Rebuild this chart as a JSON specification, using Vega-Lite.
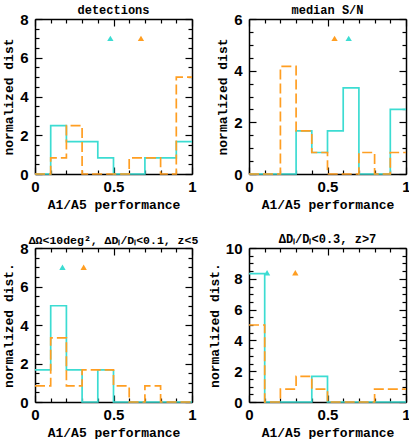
{
  "$schema": "https://vega.github.io/schema/vega-lite/v6.json",
  "padding": {"left": 2, "top": 4, "right": 0, "bottom": 0},
  "background": "white",
  "datasets": {
    "hist": [
      {"p": 1, "s": "a", "x": 0, "y": 0}, {"p": 1, "s": "a", "x": 0.1, "y": 2.5}, {"p": 1, "s": "a", "x": 0.2, "y": 1.667}, {"p": 1, "s": "a", "x": 0.3, "y": 1.667}, {"p": 1, "s": "a", "x": 0.4, "y": 0.833}, {"p": 1, "s": "a", "x": 0.5, "y": 0}, {"p": 1, "s": "a", "x": 0.6, "y": 0}, {"p": 1, "s": "a", "x": 0.7, "y": 0.833}, {"p": 1, "s": "a", "x": 0.8, "y": 0.833}, {"p": 1, "s": "a", "x": 0.9, "y": 1.667}, {"p": 1, "s": "a", "x": 1.0, "y": 1.667},
      {"p": 1, "s": "b", "x": 0, "y": 0}, {"p": 1, "s": "b", "x": 0.1, "y": 0.833}, {"p": 1, "s": "b", "x": 0.2, "y": 2.5}, {"p": 1, "s": "b", "x": 0.3, "y": 0}, {"p": 1, "s": "b", "x": 0.4, "y": 0}, {"p": 1, "s": "b", "x": 0.5, "y": 0}, {"p": 1, "s": "b", "x": 0.6, "y": 0.833}, {"p": 1, "s": "b", "x": 0.7, "y": 0.833}, {"p": 1, "s": "b", "x": 0.8, "y": 0}, {"p": 1, "s": "b", "x": 0.9, "y": 5}, {"p": 1, "s": "b", "x": 1.0, "y": 5},
      {"p": 2, "s": "a", "x": 0, "y": 0}, {"p": 2, "s": "a", "x": 0.1, "y": 0}, {"p": 2, "s": "a", "x": 0.2, "y": 0}, {"p": 2, "s": "a", "x": 0.3, "y": 1.667}, {"p": 2, "s": "a", "x": 0.4, "y": 0.833}, {"p": 2, "s": "a", "x": 0.5, "y": 1.667}, {"p": 2, "s": "a", "x": 0.6, "y": 3.333}, {"p": 2, "s": "a", "x": 0.7, "y": 0}, {"p": 2, "s": "a", "x": 0.8, "y": 0}, {"p": 2, "s": "a", "x": 0.9, "y": 2.5}, {"p": 2, "s": "a", "x": 1.0, "y": 2.5},
      {"p": 2, "s": "b", "x": 0, "y": 0}, {"p": 2, "s": "b", "x": 0.1, "y": 0}, {"p": 2, "s": "b", "x": 0.2, "y": 4.167}, {"p": 2, "s": "b", "x": 0.3, "y": 1.667}, {"p": 2, "s": "b", "x": 0.4, "y": 0.833}, {"p": 2, "s": "b", "x": 0.5, "y": 0}, {"p": 2, "s": "b", "x": 0.6, "y": 0}, {"p": 2, "s": "b", "x": 0.7, "y": 0.833}, {"p": 2, "s": "b", "x": 0.8, "y": 0}, {"p": 2, "s": "b", "x": 0.9, "y": 0.833}, {"p": 2, "s": "b", "x": 1.0, "y": 0.833},
      {"p": 3, "s": "a", "x": 0, "y": 1.667}, {"p": 3, "s": "a", "x": 0.1, "y": 5}, {"p": 3, "s": "a", "x": 0.2, "y": 1.667}, {"p": 3, "s": "a", "x": 0.3, "y": 0}, {"p": 3, "s": "a", "x": 0.4, "y": 1.667}, {"p": 3, "s": "a", "x": 0.5, "y": 0}, {"p": 3, "s": "a", "x": 0.6, "y": 0}, {"p": 3, "s": "a", "x": 0.7, "y": 0}, {"p": 3, "s": "a", "x": 0.8, "y": 0}, {"p": 3, "s": "a", "x": 0.9, "y": 0}, {"p": 3, "s": "a", "x": 1.0, "y": 0},
      {"p": 3, "s": "b", "x": 0, "y": 0.833}, {"p": 3, "s": "b", "x": 0.1, "y": 3.333}, {"p": 3, "s": "b", "x": 0.2, "y": 0.833}, {"p": 3, "s": "b", "x": 0.3, "y": 1.667}, {"p": 3, "s": "b", "x": 0.4, "y": 1.667}, {"p": 3, "s": "b", "x": 0.5, "y": 0.833}, {"p": 3, "s": "b", "x": 0.6, "y": 0}, {"p": 3, "s": "b", "x": 0.7, "y": 0.833}, {"p": 3, "s": "b", "x": 0.8, "y": 0}, {"p": 3, "s": "b", "x": 0.9, "y": 0}, {"p": 3, "s": "b", "x": 1.0, "y": 0},
      {"p": 4, "s": "a", "x": 0, "y": 8.333}, {"p": 4, "s": "a", "x": 0.1, "y": 0}, {"p": 4, "s": "a", "x": 0.2, "y": 0}, {"p": 4, "s": "a", "x": 0.3, "y": 0}, {"p": 4, "s": "a", "x": 0.4, "y": 1.667}, {"p": 4, "s": "a", "x": 0.5, "y": 0}, {"p": 4, "s": "a", "x": 0.6, "y": 0}, {"p": 4, "s": "a", "x": 0.7, "y": 0}, {"p": 4, "s": "a", "x": 0.8, "y": 0}, {"p": 4, "s": "a", "x": 0.9, "y": 0}, {"p": 4, "s": "a", "x": 1.0, "y": 0},
      {"p": 4, "s": "b", "x": 0, "y": 5}, {"p": 4, "s": "b", "x": 0.1, "y": 0}, {"p": 4, "s": "b", "x": 0.2, "y": 0.833}, {"p": 4, "s": "b", "x": 0.3, "y": 1.667}, {"p": 4, "s": "b", "x": 0.4, "y": 0.833}, {"p": 4, "s": "b", "x": 0.5, "y": 0}, {"p": 4, "s": "b", "x": 0.6, "y": 0}, {"p": 4, "s": "b", "x": 0.7, "y": 0}, {"p": 4, "s": "b", "x": 0.8, "y": 0.833}, {"p": 4, "s": "b", "x": 0.9, "y": 0.833}, {"p": 4, "s": "b", "x": 1.0, "y": 0.833}
    ],
    "tri": [
      {"p": 1, "s": "a", "x": 0.48, "y": 7}, {"p": 1, "s": "b", "x": 0.675, "y": 7},
      {"p": 2, "s": "b", "x": 0.545, "y": 5.25}, {"p": 2, "s": "a", "x": 0.635, "y": 5.25},
      {"p": 3, "s": "a", "x": 0.175, "y": 7}, {"p": 3, "s": "b", "x": 0.31, "y": 7},
      {"p": 4, "s": "a", "x": 0.115, "y": 8.4}, {"p": 4, "s": "b", "x": 0.295, "y": 8.4}
    ]
  },
  "config": {
    "view": {"stroke": null},
    "axis": {
      "grid": false, "zindex": 1, "domainColor": "black", "domainWidth": 1.5, "tickColor": "black", "tickWidth": 1.2,
      "labelFont": "Liberation Sans", "labelFontWeight": "bold", "labelFontSize": 15, "labelColor": "black",
      "labelOverlap": false, "labelFlush": false, "labelBound": false,
      "titleFont": "Liberation Mono", "titleFontWeight": "bold", "titleFontSize": 13, "titleColor": "black"
    },
    "axisBottom": {"labelPadding": 12, "titlePadding": 1},
    "axisLeft": {"labelPadding": 14, "titlePadding": 4},
    "title": {"font": "Liberation Mono", "fontWeight": "bold", "fontSize": 12, "color": "black", "offset": -5},
    "point": {"opacity": 1}
  },
  "bounds": "flush",
  "columns": 2,
  "spacing": {"row": 74, "column": 57},
  "concat": [
    {
      "width": 157, "height": 155,
      "title": {"text": "detections"},
      "layer": [
        {
          "data": {"name": "hist"}, "transform": [{"filter": "datum.p == 1"}],
          "mark": {"type": "line", "interpolate": "step-after", "strokeWidth": 1.7},
          "encoding": {
            "x": {"field": "x", "type": "quantitative", "scale": {"domain": [0, 1], "nice": false}, "axis": {"orient": "bottom", "title": "A1/A5 performance", "values": [0, 0.1, 0.2, 0.3, 0.4, 0.5, 0.6, 0.7, 0.8, 0.9, 1], "labelExpr": "datum.value == 0 ? '0' : abs(datum.value - 0.5) < 0.001 ? '0.5' : abs(datum.value - 1) < 0.001 ? '1' : ''", "tickSize": {"condition": {"test": "abs(datum.value * 2 - round(datum.value * 2)) < 0.001", "value": -7}, "value": -4}}},
            "y": {"field": "y", "type": "quantitative", "scale": {"domain": [0, 8], "nice": false}, "axis": {"orient": "left", "title": "normalized dist", "values": [0, 0.5, 1, 1.5, 2, 2.5, 3, 3.5, 4, 4.5, 5, 5.5, 6, 6.5, 7, 7.5, 8], "labelExpr": "datum.value % 2 == 0 ? format(datum.value, 'd') : ''", "tickSize": {"condition": {"test": "datum.value % 2 == 0", "value": -7}, "value": -4}}},
            "color": {"field": "s", "type": "nominal", "scale": {"domain": ["a", "b"], "range": ["#3CDCD2", "#FF9E22"]}, "legend": null},
            "strokeDash": {"field": "s", "type": "nominal", "scale": {"domain": ["a", "b"], "range": [[1, 0], [10, 4]]}, "legend": null}
          }
        },
        {
          "data": {"name": "tri"}, "transform": [{"filter": "datum.p == 1"}],
          "mark": {"type": "point", "shape": "triangle-up", "filled": true, "size": 40},
          "encoding": {
            "x": {"field": "x", "type": "quantitative", "scale": {"domain": [0, 1], "nice": false}, "axis": {"orient": "top", "title": null, "labels": false, "values": [0, 0.1, 0.2, 0.3, 0.4, 0.5, 0.6, 0.7, 0.8, 0.9, 1], "tickSize": {"condition": {"test": "abs(datum.value * 2 - round(datum.value * 2)) < 0.001", "value": -7}, "value": -4}}},
            "y": {"field": "y", "type": "quantitative", "scale": {"domain": [0, 8], "nice": false}, "axis": {"orient": "right", "title": null, "labels": false, "values": [0, 0.5, 1, 1.5, 2, 2.5, 3, 3.5, 4, 4.5, 5, 5.5, 6, 6.5, 7, 7.5, 8], "tickSize": {"condition": {"test": "datum.value % 2 == 0", "value": -7}, "value": -4}}},
            "color": {"field": "s", "type": "nominal", "scale": {"domain": ["a", "b"], "range": ["#3CDCD2", "#FF9E22"]}, "legend": null}
          }
        }
      ],
      "resolve": {"axis": {"x": "independent", "y": "independent"}}
    },
    {
      "width": 157, "height": 155,
      "title": {"text": "median S/N"},
      "layer": [
        {
          "data": {"name": "hist"}, "transform": [{"filter": "datum.p == 2"}],
          "mark": {"type": "line", "interpolate": "step-after", "strokeWidth": 1.7},
          "encoding": {
            "x": {"field": "x", "type": "quantitative", "scale": {"domain": [0, 1], "nice": false}, "axis": {"orient": "bottom", "title": "A1/A5 performance", "values": [0, 0.1, 0.2, 0.3, 0.4, 0.5, 0.6, 0.7, 0.8, 0.9, 1], "labelExpr": "datum.value == 0 ? '0' : abs(datum.value - 0.5) < 0.001 ? '0.5' : abs(datum.value - 1) < 0.001 ? '1' : ''", "tickSize": {"condition": {"test": "abs(datum.value * 2 - round(datum.value * 2)) < 0.001", "value": -7}, "value": -4}}},
            "y": {"field": "y", "type": "quantitative", "scale": {"domain": [0, 6], "nice": false}, "axis": {"orient": "left", "title": "normalized dist", "values": [0, 0.5, 1, 1.5, 2, 2.5, 3, 3.5, 4, 4.5, 5, 5.5, 6], "labelExpr": "datum.value % 2 == 0 ? format(datum.value, 'd') : ''", "tickSize": {"condition": {"test": "datum.value % 2 == 0", "value": -7}, "value": -4}}},
            "color": {"field": "s", "type": "nominal", "scale": {"domain": ["a", "b"], "range": ["#3CDCD2", "#FF9E22"]}, "legend": null},
            "strokeDash": {"field": "s", "type": "nominal", "scale": {"domain": ["a", "b"], "range": [[1, 0], [10, 4]]}, "legend": null}
          }
        },
        {
          "data": {"name": "tri"}, "transform": [{"filter": "datum.p == 2"}],
          "mark": {"type": "point", "shape": "triangle-up", "filled": true, "size": 40},
          "encoding": {
            "x": {"field": "x", "type": "quantitative", "scale": {"domain": [0, 1], "nice": false}, "axis": {"orient": "top", "title": null, "labels": false, "values": [0, 0.1, 0.2, 0.3, 0.4, 0.5, 0.6, 0.7, 0.8, 0.9, 1], "tickSize": {"condition": {"test": "abs(datum.value * 2 - round(datum.value * 2)) < 0.001", "value": -7}, "value": -4}}},
            "y": {"field": "y", "type": "quantitative", "scale": {"domain": [0, 6], "nice": false}, "axis": {"orient": "right", "title": null, "labels": false, "values": [0, 0.5, 1, 1.5, 2, 2.5, 3, 3.5, 4, 4.5, 5, 5.5, 6], "tickSize": {"condition": {"test": "datum.value % 2 == 0", "value": -7}, "value": -4}}},
            "color": {"field": "s", "type": "nominal", "scale": {"domain": ["a", "b"], "range": ["#3CDCD2", "#FF9E22"]}, "legend": null}
          }
        }
      ],
      "resolve": {"axis": {"x": "independent", "y": "independent"}}
    },
    {
      "width": 157, "height": 154,
      "title": {"text": "ΔΩ<10deg², ΔDₗ/Dₗ<0.1, z<5", "fontSize": 11.5},
      "layer": [
        {
          "data": {"name": "hist"}, "transform": [{"filter": "datum.p == 3"}],
          "mark": {"type": "line", "interpolate": "step-after", "strokeWidth": 1.7},
          "encoding": {
            "x": {"field": "x", "type": "quantitative", "scale": {"domain": [0, 1], "nice": false}, "axis": {"orient": "bottom", "title": "A1/A5 performance", "values": [0, 0.1, 0.2, 0.3, 0.4, 0.5, 0.6, 0.7, 0.8, 0.9, 1], "labelExpr": "datum.value == 0 ? '0' : abs(datum.value - 0.5) < 0.001 ? '0.5' : abs(datum.value - 1) < 0.001 ? '1' : ''", "tickSize": {"condition": {"test": "abs(datum.value * 2 - round(datum.value * 2)) < 0.001", "value": -7}, "value": -4}}},
            "y": {"field": "y", "type": "quantitative", "scale": {"domain": [0, 8], "nice": false}, "axis": {"orient": "left", "title": "normalized dist.", "values": [0, 0.5, 1, 1.5, 2, 2.5, 3, 3.5, 4, 4.5, 5, 5.5, 6, 6.5, 7, 7.5, 8], "labelExpr": "datum.value % 2 == 0 ? format(datum.value, 'd') : ''", "tickSize": {"condition": {"test": "datum.value % 2 == 0", "value": -7}, "value": -4}}},
            "color": {"field": "s", "type": "nominal", "scale": {"domain": ["a", "b"], "range": ["#3CDCD2", "#FF9E22"]}, "legend": null},
            "strokeDash": {"field": "s", "type": "nominal", "scale": {"domain": ["a", "b"], "range": [[1, 0], [10, 4]]}, "legend": null}
          }
        },
        {
          "data": {"name": "tri"}, "transform": [{"filter": "datum.p == 3"}],
          "mark": {"type": "point", "shape": "triangle-up", "filled": true, "size": 40},
          "encoding": {
            "x": {"field": "x", "type": "quantitative", "scale": {"domain": [0, 1], "nice": false}, "axis": {"orient": "top", "title": null, "labels": false, "values": [0, 0.1, 0.2, 0.3, 0.4, 0.5, 0.6, 0.7, 0.8, 0.9, 1], "tickSize": {"condition": {"test": "abs(datum.value * 2 - round(datum.value * 2)) < 0.001", "value": -7}, "value": -4}}},
            "y": {"field": "y", "type": "quantitative", "scale": {"domain": [0, 8], "nice": false}, "axis": {"orient": "right", "title": null, "labels": false, "values": [0, 0.5, 1, 1.5, 2, 2.5, 3, 3.5, 4, 4.5, 5, 5.5, 6, 6.5, 7, 7.5, 8], "tickSize": {"condition": {"test": "datum.value % 2 == 0", "value": -7}, "value": -4}}},
            "color": {"field": "s", "type": "nominal", "scale": {"domain": ["a", "b"], "range": ["#3CDCD2", "#FF9E22"]}, "legend": null}
          }
        }
      ],
      "resolve": {"axis": {"x": "independent", "y": "independent"}}
    },
    {
      "width": 157, "height": 154,
      "title": {"text": "ΔDₗ/Dₗ<0.3, z>7"},
      "layer": [
        {
          "data": {"name": "hist"}, "transform": [{"filter": "datum.p == 4"}],
          "mark": {"type": "line", "interpolate": "step-after", "strokeWidth": 1.7},
          "encoding": {
            "x": {"field": "x", "type": "quantitative", "scale": {"domain": [0, 1], "nice": false}, "axis": {"orient": "bottom", "title": "A1/A5 performance", "values": [0, 0.1, 0.2, 0.3, 0.4, 0.5, 0.6, 0.7, 0.8, 0.9, 1], "labelExpr": "datum.value == 0 ? '0' : abs(datum.value - 0.5) < 0.001 ? '0.5' : abs(datum.value - 1) < 0.001 ? '1' : ''", "tickSize": {"condition": {"test": "abs(datum.value * 2 - round(datum.value * 2)) < 0.001", "value": -7}, "value": -4}}},
            "y": {"field": "y", "type": "quantitative", "scale": {"domain": [0, 10], "nice": false}, "axis": {"orient": "left", "title": "normalized dist.", "values": [0, 0.5, 1, 1.5, 2, 2.5, 3, 3.5, 4, 4.5, 5, 5.5, 6, 6.5, 7, 7.5, 8, 8.5, 9, 9.5, 10], "labelExpr": "datum.value % 2 == 0 ? format(datum.value, 'd') : ''", "tickSize": {"condition": {"test": "datum.value % 2 == 0", "value": -7}, "value": -4}}},
            "color": {"field": "s", "type": "nominal", "scale": {"domain": ["a", "b"], "range": ["#3CDCD2", "#FF9E22"]}, "legend": null},
            "strokeDash": {"field": "s", "type": "nominal", "scale": {"domain": ["a", "b"], "range": [[1, 0], [10, 4]]}, "legend": null}
          }
        },
        {
          "data": {"name": "tri"}, "transform": [{"filter": "datum.p == 4"}],
          "mark": {"type": "point", "shape": "triangle-up", "filled": true, "size": 40},
          "encoding": {
            "x": {"field": "x", "type": "quantitative", "scale": {"domain": [0, 1], "nice": false}, "axis": {"orient": "top", "title": null, "labels": false, "values": [0, 0.1, 0.2, 0.3, 0.4, 0.5, 0.6, 0.7, 0.8, 0.9, 1], "tickSize": {"condition": {"test": "abs(datum.value * 2 - round(datum.value * 2)) < 0.001", "value": -7}, "value": -4}}},
            "y": {"field": "y", "type": "quantitative", "scale": {"domain": [0, 10], "nice": false}, "axis": {"orient": "right", "title": null, "labels": false, "values": [0, 0.5, 1, 1.5, 2, 2.5, 3, 3.5, 4, 4.5, 5, 5.5, 6, 6.5, 7, 7.5, 8, 8.5, 9, 9.5, 10], "tickSize": {"condition": {"test": "datum.value % 2 == 0", "value": -7}, "value": -4}}},
            "color": {"field": "s", "type": "nominal", "scale": {"domain": ["a", "b"], "range": ["#3CDCD2", "#FF9E22"]}, "legend": null}
          }
        }
      ],
      "resolve": {"axis": {"x": "independent", "y": "independent"}}
    }
  ]
}
